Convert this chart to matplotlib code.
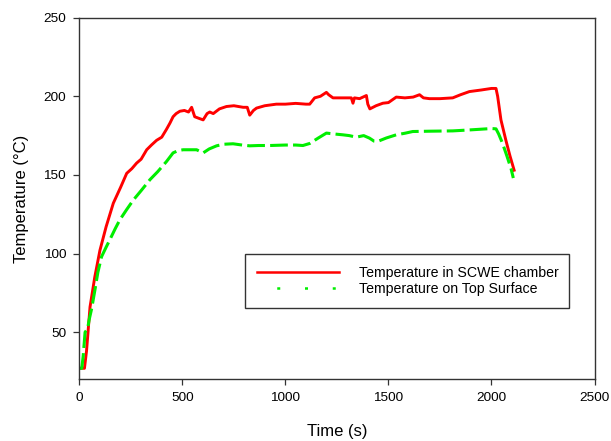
import matplotlib
matplotlib.use("Agg")
import matplotlib.pyplot as plt
from matplotlib.lines import Line2D

plt.rcParams['font.family'] = ['Liberation Sans', 'DejaVu Sans']

# Temperature in SCWE chamber (red)
red_t = [0, 25, 35, 52, 75, 100, 130, 165, 200, 230, 255, 278, 300, 327, 350, 375, 400, 423, 440,
         455, 470, 488, 510, 530, 545, 560, 580, 601, 620, 633, 650, 680, 714, 750, 795, 815, 827,
         845, 860, 900, 956, 1000, 1050, 1100, 1118, 1130, 1142, 1170, 1199, 1210, 1231, 1270,
         1300, 1320, 1328, 1335, 1360, 1393, 1400, 1410, 1440, 1473, 1500, 1538, 1580, 1620,
         1651, 1670, 1699, 1750, 1812, 1850, 1893, 1950, 2000, 2022, 2030, 2046, 2070, 2090, 2110]
red_y = [27, 27, 38, 66, 85, 102, 117, 132, 142, 151, 154, 157.5, 160, 166, 169, 172, 174, 179, 183,
         187, 189, 190.5, 191, 190, 193, 187, 186, 185, 189, 190, 189, 192, 193.5, 194, 193, 193, 188,
         191, 192.5, 194, 195, 195, 195.5, 195, 195, 197, 199, 200, 202.5, 201, 199, 199,
         199, 199, 195.6, 199, 198.5, 200.5, 195, 192, 194, 195.6, 196, 199.5, 199, 199.5,
         201, 199, 198.5, 198.5, 199, 201, 203, 204, 205, 205, 200, 185, 172, 162, 153]

# Temperature on Top Surface (green)
green_t = [0, 12, 19, 28, 40, 48, 60, 76, 90, 108, 130, 149, 175, 197, 230, 262, 300, 343, 380, 423,
           455, 480, 504, 540, 569, 585, 601, 630, 666, 700, 746, 790, 827, 870, 924, 1000, 1050,
           1085, 1118, 1160, 1199, 1240, 1279, 1310, 1344, 1380, 1408, 1430, 1448, 1490, 1538,
           1580, 1618, 1700, 1812, 1880, 1941, 2000, 2022, 2035, 2054, 2075, 2095, 2106]
green_y = [27, 27, 35, 50, 52, 58, 65, 77, 88, 98, 104, 109, 116, 121.5, 128, 134, 140, 147, 152, 158.5,
           164, 165.5, 166, 166, 166, 165, 164, 166.5, 168.5, 169.5, 169.8, 169, 168.5, 168.7, 168.7,
           169, 169, 168.7, 170, 173.5, 176.6, 176, 175.5, 175, 174, 175, 173.4, 171.5, 171.3, 173.5,
           175.5, 176.5, 177.6, 177.8, 178, 178.5, 179, 179.5, 179.3, 176, 170, 162, 154, 148]

x_ticks = [0, 500, 1000, 1500, 2000, 2500]
y_ticks = [50, 100, 150, 200, 250]
labels = ['Temperature in SCWE chamber', 'Temperature on Top Surface']

fig = plt.figure(figsize=(6.11, 4.41), dpi=100)
ax = fig.add_axes([0.1298, 0.1399, 0.8432, 0.8200])

ax.plot(red_t, red_y, color='#ff0000', lw=2.1, solid_joinstyle='round')
ax.plot(green_t, green_y, color='#00ee00', lw=2.2, dashes=(5.8, 1.7))

ax.set_xlim(0, 2500)
ax.set_ylim(20, 250)
ax.set_xticks(x_ticks)
ax.set_yticks(y_ticks)
ax.tick_params(direction='out', length=4.5, width=0.9, labelsize=9.7, pad=5, color='#333333')
for s in ax.spines.values():
    s.set_linewidth(1.0)
    s.set_color('#333333')

ax.set_xlabel('Time (s)', fontsize=12, labelpad=14)
ax.set_ylabel('Temperature (°C)', fontsize=12, labelpad=10)

h1 = Line2D([], [], color='#ff0000', lw=1.8)
h2 = Line2D([], [], color='#00ee00', lw=1.8, linestyle=(3.2, (1.2, 9.9)))
leg = ax.legend([h1, h2], labels, loc='upper left', bbox_to_anchor=(0.3216, 0.3465, 0.6295, 0.0),
                mode='expand', borderaxespad=0, fontsize=10.2, handlelength=5.8,
                handletextpad=1.4, labelspacing=0.15, borderpad=0.85, fancybox=False,
                framealpha=1, edgecolor='#333333')
leg.get_frame().set_linewidth(1.0)

fig.savefig('out.png', dpi=100)
